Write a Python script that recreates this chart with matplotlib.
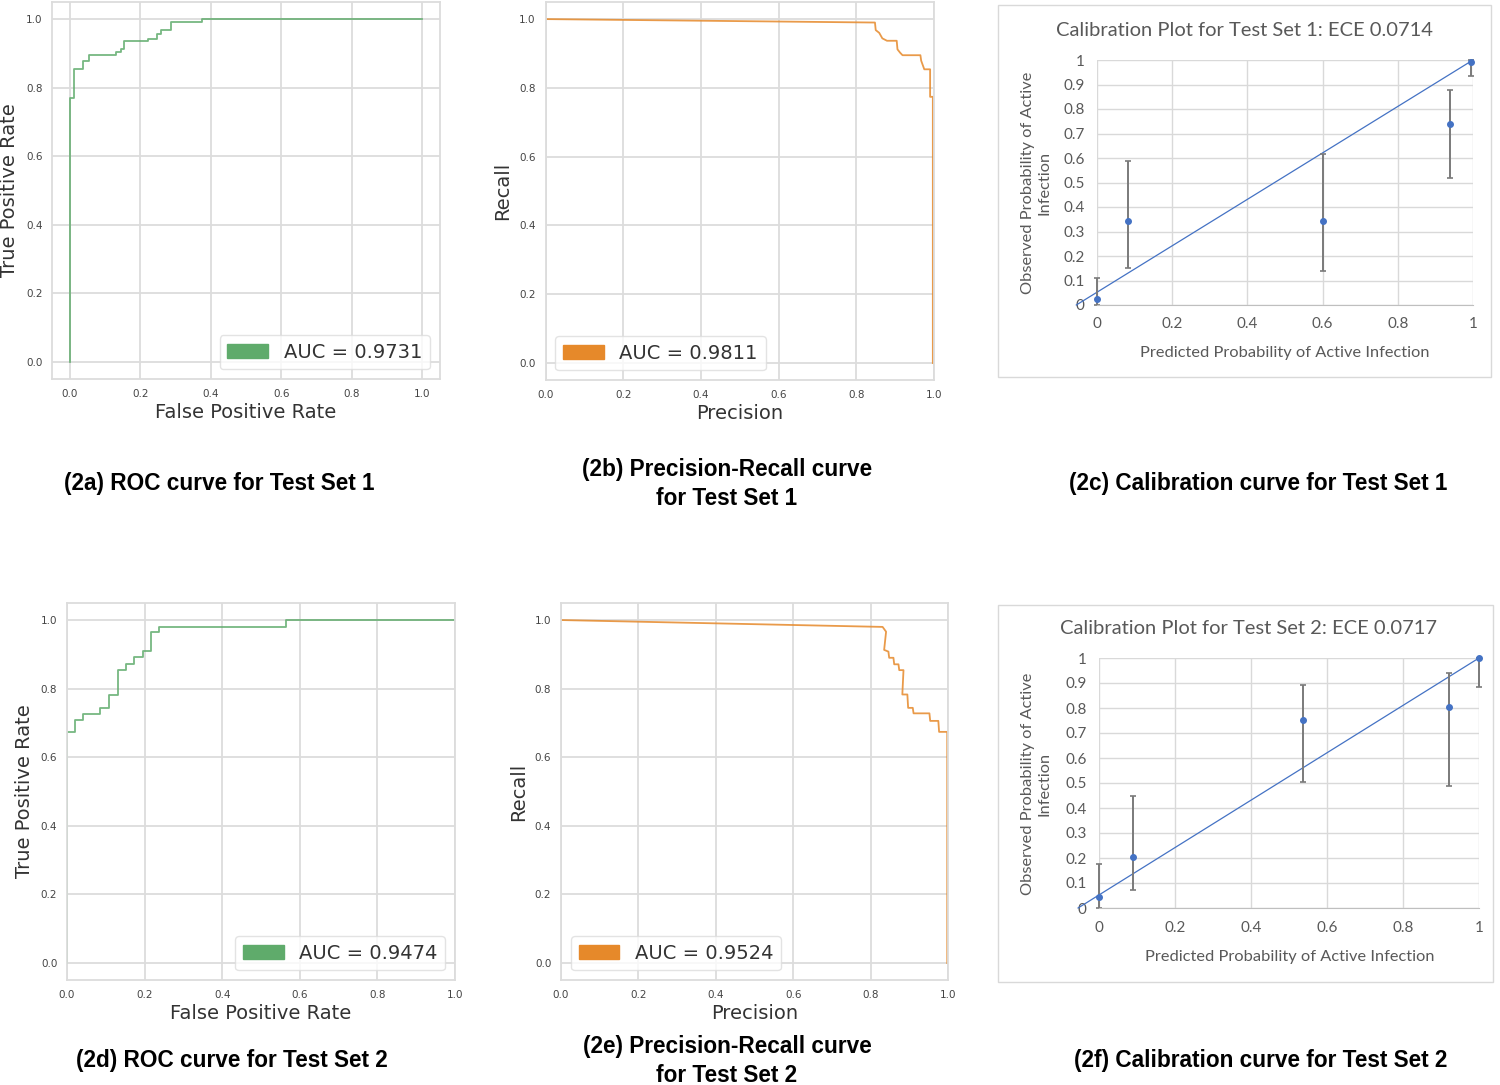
import numpy as np
import matplotlib
matplotlib.use("agg")
import matplotlib.pyplot as plt
import matplotlib.patches as mpatches

# ---- data ----
roc1_fpr = [0.0, 0.0, 0.011, 0.038, 0.054, 0.130, 0.145, 0.153, 0.221, 0.246, 0.259, 0.286, 0.376, 1.0]
roc1_tpr = [0.0, 0.771, 0.854, 0.877, 0.895, 0.905, 0.912, 0.936, 0.942, 0.955, 0.968, 0.992, 1.0, 1.0]
roc1_auc = "AUC = 0.9731"

roc2_fpr = [0.0, 0.0, 0.021, 0.042, 0.085, 0.108, 0.131, 0.152, 0.173, 0.197, 0.217, 0.238, 0.565, 1.0]
roc2_tpr = [0.0, 0.673, 0.708, 0.726, 0.745, 0.781, 0.854, 0.872, 0.891, 0.910, 0.964, 0.980, 1.0, 1.0]
roc2_auc = "AUC = 0.9474"

pr1_precision = [0.0, 0.848, 0.850, 0.859, 0.867, 0.879, 0.904, 0.906, 0.913, 0.919, 0.965,
                 0.967, 0.975, 0.990, 0.990, 0.997, 0.997]
pr1_recall = [1.0, 0.990, 0.968, 0.960, 0.944, 0.937, 0.937, 0.912, 0.902, 0.895, 0.895,
              0.879, 0.854, 0.854, 0.774, 0.774, 0.0]
pr1_auc = "AUC = 0.9811"

pr2_precision = [0.0, 0.831, 0.840, 0.835, 0.846, 0.848, 0.859, 0.861, 0.872, 0.874, 0.885,
                 0.882, 0.895, 0.897, 0.909, 0.911, 0.952, 0.954, 0.975, 0.977, 0.998, 0.998]
pr2_recall = [1.0, 0.980, 0.966, 0.913, 0.908, 0.890, 0.890, 0.871, 0.871, 0.854, 0.854,
              0.783, 0.783, 0.744, 0.744, 0.728, 0.728, 0.706, 0.706, 0.674, 0.674, 0.0]
pr2_auc = "AUC = 0.9524"

cal1_pred = [0.0, 0.083, 0.602, 0.940, 0.996]
cal1_obs = [0.025, 0.342, 0.342, 0.738, 0.993]
cal1_low = [0.0, 0.150, 0.137, 0.519, 0.936]
cal1_high = [0.109, 0.587, 0.615, 0.877, 1.0]

cal2_pred = [0.0, 0.090, 0.536, 0.921, 1.0]
cal2_obs = [0.044, 0.206, 0.754, 0.805, 1.0]
cal2_low = [0.0, 0.073, 0.503, 0.489, 0.884]
cal2_high = [0.176, 0.449, 0.894, 0.940, 1.0]

diag_x = [-0.055, 1.0]
diag_y = [0.0, 1.0]

sns_ticks = [0.0, 0.2, 0.4, 0.6, 0.8, 1.0]
sns_ticklabels = ["0.0", "0.2", "0.4", "0.6", "0.8", "1.0"]
cal_xticks = [0, 0.2, 0.4, 0.6, 0.8, 1.0]
cal_xticklabels = ["0", "0.2", "0.4", "0.6", "0.8", "1"]
cal_yticks = [0, 0.1, 0.2, 0.3, 0.4, 0.5, 0.6, 0.7, 0.8, 0.9, 1.0]
cal_yticklabels = ["0", "0.1", "0.2", "0.3", "0.4", "0.5", "0.6", "0.7", "0.8", "0.9", "1"]

captions = ["(2a) ROC curve for Test Set 1",
            "(2b) Precision-Recall curve\nfor Test Set 1",
            "(2c) Calibration curve for Test Set 1",
            "(2d) ROC curve for Test Set 2",
            "(2e) Precision-Recall curve\nfor Test Set 2",
            "(2f) Calibration curve for Test Set 2"]

GREEN = "#5fab6b"
ORANGE = "#e6892a"
BLUE = "#4472c4"

W, H = 1500, 1085
fig = plt.figure(figsize=(15, 10.85), dpi=100)


def px_axes(x0, x1, y_top, y_bot):
    return fig.add_axes([x0 / W, 1 - y_bot / H, (x1 - x0) / W, (y_bot - y_top) / H])


def sns_panel(ax, x, y, color, label, xlabel, ylabel, loc, steps, xlim):
    ax.plot(x, y, color=color, lw=1.3, alpha=0.85,
            drawstyle="steps-post" if steps else "default")
    ax.set_xlim(*xlim)
    ax.set_ylim(-0.05, 1.05)
    ax.set_xticks(sns_ticks)
    ax.set_xticklabels(sns_ticklabels)
    ax.set_yticks(sns_ticks)
    ax.set_yticklabels(sns_ticklabels)
    ax.grid(True, color="#dcdcdc", lw=1.3)
    ax.set_axisbelow(True)
    for s in ax.spines.values():
        s.set_color("#dcdcdc")
        s.set_linewidth(1.3)
    ax.tick_params(length=0, labelsize=7.5, labelcolor="#444444", pad=7)
    ax.set_xlabel(xlabel, fontsize=14, color="#333333", labelpad=3)
    ax.set_ylabel(ylabel, fontsize=14, color="#333333", labelpad=5)
    handle = mpatches.Patch(color=color, label=label)
    leg = ax.legend(handles=[handle], loc=loc, fontsize=14, handlelength=2.1,
                    fancybox=True, framealpha=0.8, edgecolor="#dddddd")
    for t in leg.get_texts():
        t.set_color("#333333")


def cal_panel(ax, pred, obs, low, high):
    ax.set_xlim(0, 1)
    ax.set_ylim(0, 1)
    ax.set_xticks(cal_xticks)
    ax.set_xticklabels(cal_xticklabels)
    ax.set_yticks(cal_yticks)
    ax.set_yticklabels(cal_yticklabels)
    ax.grid(True, color="#d9d9d9", lw=1.0)
    ax.set_axisbelow(True)
    for k in ["top", "right", "left"]:
        ax.spines[k].set_visible(False)
    ax.spines["bottom"].set_color("#bfbfbf")
    ax.tick_params(length=0, labelsize=11, labelcolor="#595959", pad=9)
    for t in ax.get_xticklabels() + ax.get_yticklabels():
        t.set_family("Lato")
    ax.plot(diag_x, diag_y, color=BLUE, lw=0.9, clip_on=False)
    obs = np.array(obs)
    yerr = [obs - np.array(low), np.array(high) - obs]
    eb = ax.errorbar(pred, obs, yerr=yerr, fmt="none", ecolor="#7a7a7a",
                     elinewidth=1.4, capsize=2.5, capthick=1.2)
    for art in eb.lines[1] + eb.lines[2]:
        art.set_clip_on(False)
    ax.plot(pred, obs, "o", ms=4, color=BLUE, clip_on=False, zorder=5)


ax = px_axes(52.4, 439.6, 1.9, 379.2)
sns_panel(ax, roc1_fpr, roc1_tpr, GREEN, roc1_auc, "False Positive Rate",
          "True Positive Rate", "lower right", True, (-0.05, 1.05))

ax = px_axes(545.5, 934, 1.9, 380.2)
sns_panel(ax, pr1_precision, pr1_recall, ORANGE, pr1_auc, "Precision", "Recall",
          "lower left", False, (0, 1))

ax = px_axes(67, 455, 602.9, 980.2)
sns_panel(ax, roc2_fpr, roc2_tpr, GREEN, roc2_auc, "False Positive Rate",
          "True Positive Rate", "lower right", True, (0, 1))

ax = px_axes(561, 948, 602.9, 980.2)
sns_panel(ax, pr2_precision, pr2_recall, ORANGE, pr2_auc, "Precision", "Recall",
          "lower left", False, (0, 1))

# calibration charts (excel look)
fig.add_artist(mpatches.Rectangle((998 / W, 1 - 377 / H), 493 / W, 372 / H,
                                  transform=fig.transFigure, fill=False,
                                  edgecolor="#d9d9d9", lw=1.0))
fig.add_artist(mpatches.Rectangle((998 / W, 1 - 982 / H), 495 / W, 377 / H,
                                  transform=fig.transFigure, fill=False,
                                  edgecolor="#d9d9d9", lw=1.0))

ax = px_axes(1097, 1473, 60, 305)
cal_panel(ax, cal1_pred, cal1_obs, cal1_low, cal1_high)
ax = px_axes(1099, 1479, 658, 908)
cal_panel(ax, cal2_pred, cal2_obs, cal2_low, cal2_high)

cal_txt = dict(family="Lato", color="#595959")
fig.text(1244 / W, 1 - 30 / H, "Calibration Plot for Test Set 1: ECE 0.0714",
         ha="center", va="center", fontsize=14.5, **cal_txt)
fig.text(1248 / W, 1 - 629 / H, "Calibration Plot for Test Set 2: ECE 0.0717",
         ha="center", va="center", fontsize=14.5, **cal_txt)
fig.text(1285 / W, 1 - 353 / H, "Predicted Probability of Active Infection",
         ha="center", va="center", fontsize=11.8, **cal_txt)
fig.text(1290 / W, 1 - 957 / H, "Predicted Probability of Active Infection",
         ha="center", va="center", fontsize=11.8, **cal_txt)
fig.text(1036 / W, 1 - 183 / H, "Observed Probability of Active\nInfection",
         ha="center", va="center", rotation=90, multialignment="center",
         linespacing=1.25, fontsize=11.8, **cal_txt)
fig.text(1036 / W, 1 - 784 / H, "Observed Probability of Active\nInfection",
         ha="center", va="center", rotation=90, multialignment="center",
         linespacing=1.25, fontsize=11.8, **cal_txt)

# captions under each panel
cap_pos = [(219, 484), (727, 484), (1258, 484), (232, 1061), (727, 1061), (1261, 1061)]
for (cx, cy), txt in zip(cap_pos, captions):
    fig.text(cx / W, 1 - cy / H, txt, ha="center", va="center", fontsize=16.3,
             fontweight="bold", family="Liberation Sans", linespacing=1.3)

fig.savefig("out.png", dpi=100)
